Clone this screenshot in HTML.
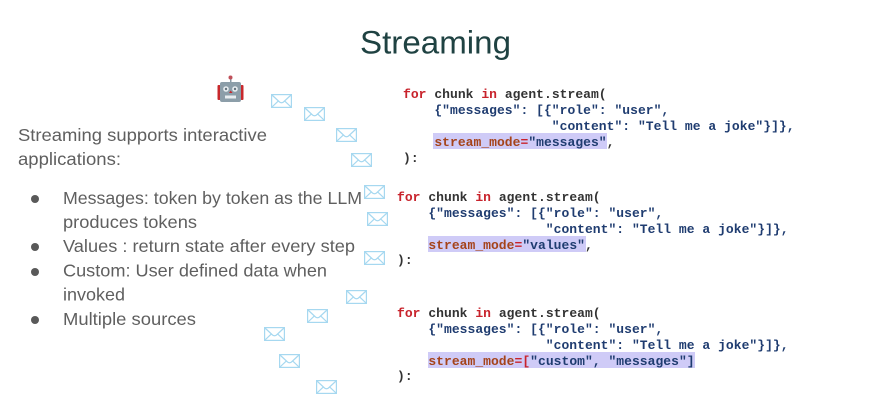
<!DOCTYPE html>
<html><head><meta charset="utf-8"><style>
html,body{margin:0;padding:0;background:#fff;width:886px;height:400px;overflow:hidden}
svg{display:block}
.s{font-family:"Liberation Sans",sans-serif;font-size:17.5px;fill:#5f5f5f}
.c{font-family:"Liberation Mono",monospace;font-weight:bold;font-size:13px;letter-spacing:.03px;white-space:pre;fill:#333}
.k{fill:#c8232c}.q{fill:#1f3c70}.m{fill:#a5431a}
</style></head><body>
<svg width="886" height="400" viewBox="0 0 886 400" xmlns="http://www.w3.org/2000/svg">
<defs>
<g id="e" fill="none" stroke="#a6d8f0" stroke-width="1.2">
<rect x=".6" y=".6" width="19.8" height="12.8" fill="#fff"/>
<path d="M1 1L8.5 8Q10.500 9.500 12.500 8L20 1M1 13L7.500 6.800M20 13L13.500 6.800"/>
</g>
</defs>
<text x="360" y="53.500" font-family="Liberation Sans,sans-serif" font-size="32" fill="#1f4242" textLength="151" lengthAdjust="spacingAndGlyphs">Streaming</text>

<text class="s" x="18" y="141" textLength="249" lengthAdjust="spacingAndGlyphs">Streaming supports interactive</text>
<text class="s" x="18" y="165" textLength="103" lengthAdjust="spacingAndGlyphs">applications:</text>
<text class="s" x="63" y="204" textLength="299" lengthAdjust="spacingAndGlyphs">Messages: token by token as the LLM</text>
<text class="s" x="63" y="228" textLength="134" lengthAdjust="spacingAndGlyphs">produces tokens</text>
<text class="s" x="63" y="252" textLength="292" lengthAdjust="spacingAndGlyphs">Values : return state after every step</text>
<text class="s" x="63" y="276.500" textLength="264" lengthAdjust="spacingAndGlyphs">Custom: User defined data when</text>
<text class="s" x="63" y="300.500" textLength="62" lengthAdjust="spacingAndGlyphs">invoked</text>
<text class="s" x="63" y="325" textLength="133" lengthAdjust="spacingAndGlyphs">Multiple sources</text>
<g fill="#595959"><circle cx="35" cy="199" r="4"/><circle cx="35" cy="247" r="4"/><circle cx="35" cy="272" r="4"/><circle cx="35" cy="320" r="4"/></g>

<!-- robot -->
<rect x="217.500" y="85" width="3" height="15" rx="1" fill="#c8282c"/>
<rect x="240.500" y="85" width="3" height="15" rx="1" fill="#c8282c"/>
<rect x="230" y="78" width="1.500" height="6" fill="#8a9aa5"/>
<circle cx="230.500" cy="77.500" r="2" fill="#c0505a"/>
<rect x="220" y="82" width="21" height="20" rx="2" fill="#8c9ea9"/>
<circle cx="226" cy="89" r="2.800" fill="#e8edf0"/><circle cx="235" cy="89" r="2.800" fill="#e8edf0"/>
<circle cx="226" cy="89" r="1.200" fill="#66757f"/><circle cx="235" cy="89" r="1.200" fill="#66757f"/>
<path d="M229 93h3.500l-1.750-2.500z" fill="#c8282c"/>
<rect x="225" y="95.500" width="11" height="3" fill="#e8edf0"/>

<!-- envelopes -->
<use href="#e" x="271" y="94"/><use href="#e" x="304" y="107"/><use href="#e" x="336" y="128"/><use href="#e" x="351" y="153"/>
<use href="#e" x="364" y="185"/><use href="#e" x="367" y="212"/><use href="#e" x="364" y="251"/><use href="#e" x="346" y="290"/>
<use href="#e" x="307" y="309"/><use href="#e" x="264" y="327"/><use href="#e" x="279" y="354"/><use href="#e" x="316" y="380"/>

<!-- highlights -->
<rect x="433" y="133" width="174" height="16" fill="#cfcbf7"/>
<rect x="428" y="236" width="158" height="16" fill="#cfcbf7"/>
<rect x="428" y="352" width="267" height="16" fill="#cfcbf7"/>

<!-- block 1 -->
<text class="c" x="403" y="98"><tspan class="k">for</tspan> chunk <tspan class="k">in</tspan> agent.stream(</text>
<text class="c q" x="403" y="114">    {"messages": [{"role": "user",</text>
<text class="c q" x="403" y="130">                   "content": "Tell me a joke"}]},</text>
<text class="c" x="403" y="146">    <tspan class="m">stream_mode</tspan><tspan class="k">=</tspan><tspan class="q">"messages"</tspan>,</text>
<text class="c" x="403" y="162">):</text>

<!-- block 2 -->
<text class="c" x="397" y="201"><tspan class="k">for</tspan> chunk <tspan class="k">in</tspan> agent.stream(</text>
<text class="c q" x="397" y="217">    {"messages": [{"role": "user",</text>
<text class="c q" x="397" y="233">                   "content": "Tell me a joke"}]},</text>
<text class="c" x="397" y="249">    <tspan class="m">stream_mode</tspan><tspan class="k">=</tspan><tspan class="q">"values"</tspan>,</text>
<text class="c" x="397" y="264">):</text>

<!-- block 3 -->
<text class="c" x="397" y="317"><tspan class="k">for</tspan> chunk <tspan class="k">in</tspan> agent.stream(</text>
<text class="c q" x="397" y="333">    {"messages": [{"role": "user",</text>
<text class="c q" x="397" y="349">                   "content": "Tell me a joke"}]},</text>
<text class="c" x="397" y="365">    <tspan class="m">stream_mode</tspan><tspan class="k">=[</tspan><tspan class="q">"custom", "messages"]</tspan></text>
<text class="c" x="397" y="380">):</text>
</svg>
</body></html>
